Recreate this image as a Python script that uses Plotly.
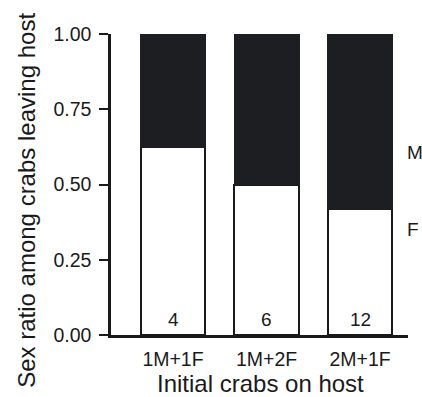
import plotly.graph_objects as go

categories = ["1M+1F", "1M+2F", "2M+1F"]
female_ratio = [0.625, 0.5, 0.417]
male_ratio = [0.375, 0.5, 0.583]
counts = ["4", "6", "12"]
y_ticks = [0, 0.25, 0.5, 0.75, 1.0]
y_tick_labels = ["0.00", "0.25", "0.50", "0.75", "1.00"]

FONT = "Liberation Sans, Arial, Helvetica, sans-serif"
TXT = "#1a1a1a"

fig = go.Figure()
fig.add_trace(go.Bar(
    x=[0, 1, 2], y=female_ratio, width=0.69,
    marker=dict(color="white", line=dict(color="#1a1a1a", width=2)),
    showlegend=False, hoverinfo="skip"))
fig.add_trace(go.Bar(
    x=[0, 1, 2], y=male_ratio, width=0.69,
    marker=dict(color="#1d1e21", line=dict(color="#1d1e21", width=1.5)),
    showlegend=False, hoverinfo="skip"))

for i, c in enumerate(counts):
    fig.add_annotation(x=i, y=0.053, xref="x", yref="y", text=c, showarrow=False,
                       font=dict(size=19, color=TXT, family=FONT))

fig.add_annotation(x=0.99, y=0.605, xref="paper", yref="paper", text="M",
                   showarrow=False, xanchor="left", yanchor="middle",
                   font=dict(size=19, color=TXT, family=FONT))
fig.add_annotation(x=0.99, y=0.35, xref="paper", yref="paper", text="F",
                   showarrow=False, xanchor="left", yanchor="middle",
                   font=dict(size=19, color=TXT, family=FONT))

fig.add_annotation(x=-0.283, y=0.449, xref="paper", yref="paper",
                   text="Sex ratio among crabs leaving host", textangle=-90,
                   showarrow=False, xanchor="center", yanchor="middle",
                   font=dict(size=24, color=TXT, family=FONT))
fig.add_annotation(x=0.505, y=-0.162, xref="paper", yref="paper",
                   text="Initial crabs on host",
                   showarrow=False, xanchor="center", yanchor="middle",
                   font=dict(size=24, color=TXT, family=FONT))

fig.update_layout(
    barmode="stack",
    width=422, height=397,
    margin=dict(l=111, r=14, t=34, b=62),
    paper_bgcolor="white", plot_bgcolor="white",
    font=dict(family=FONT, color=TXT, size=19),
    xaxis=dict(range=[-0.663, 2.513], tickmode="array", tickvals=[0, 1, 2],
               ticktext=categories, showline=True, linecolor="#1a1a1a",
               linewidth=2.5, ticks="", showgrid=False, zeroline=False,
               tickfont=dict(size=19.5, color=TXT, family=FONT), ticklabelstandoff=5),
    yaxis=dict(range=[0, 1], tickmode="array", tickvals=y_ticks,
               ticktext=y_tick_labels, showline=True, linecolor="#1a1a1a",
               linewidth=2.5, ticks="outside", ticklen=9, tickwidth=2,
               tickcolor="#1a1a1a", showgrid=False, zeroline=False,
               tickfont=dict(size=19.5, color=TXT, family=FONT), ticklabelstandoff=4),
)

fig.write_html("out.html", config={"displayModeBar": False},
               post_script="document.body.style.margin='0';document.body.style.overflow='hidden';")
